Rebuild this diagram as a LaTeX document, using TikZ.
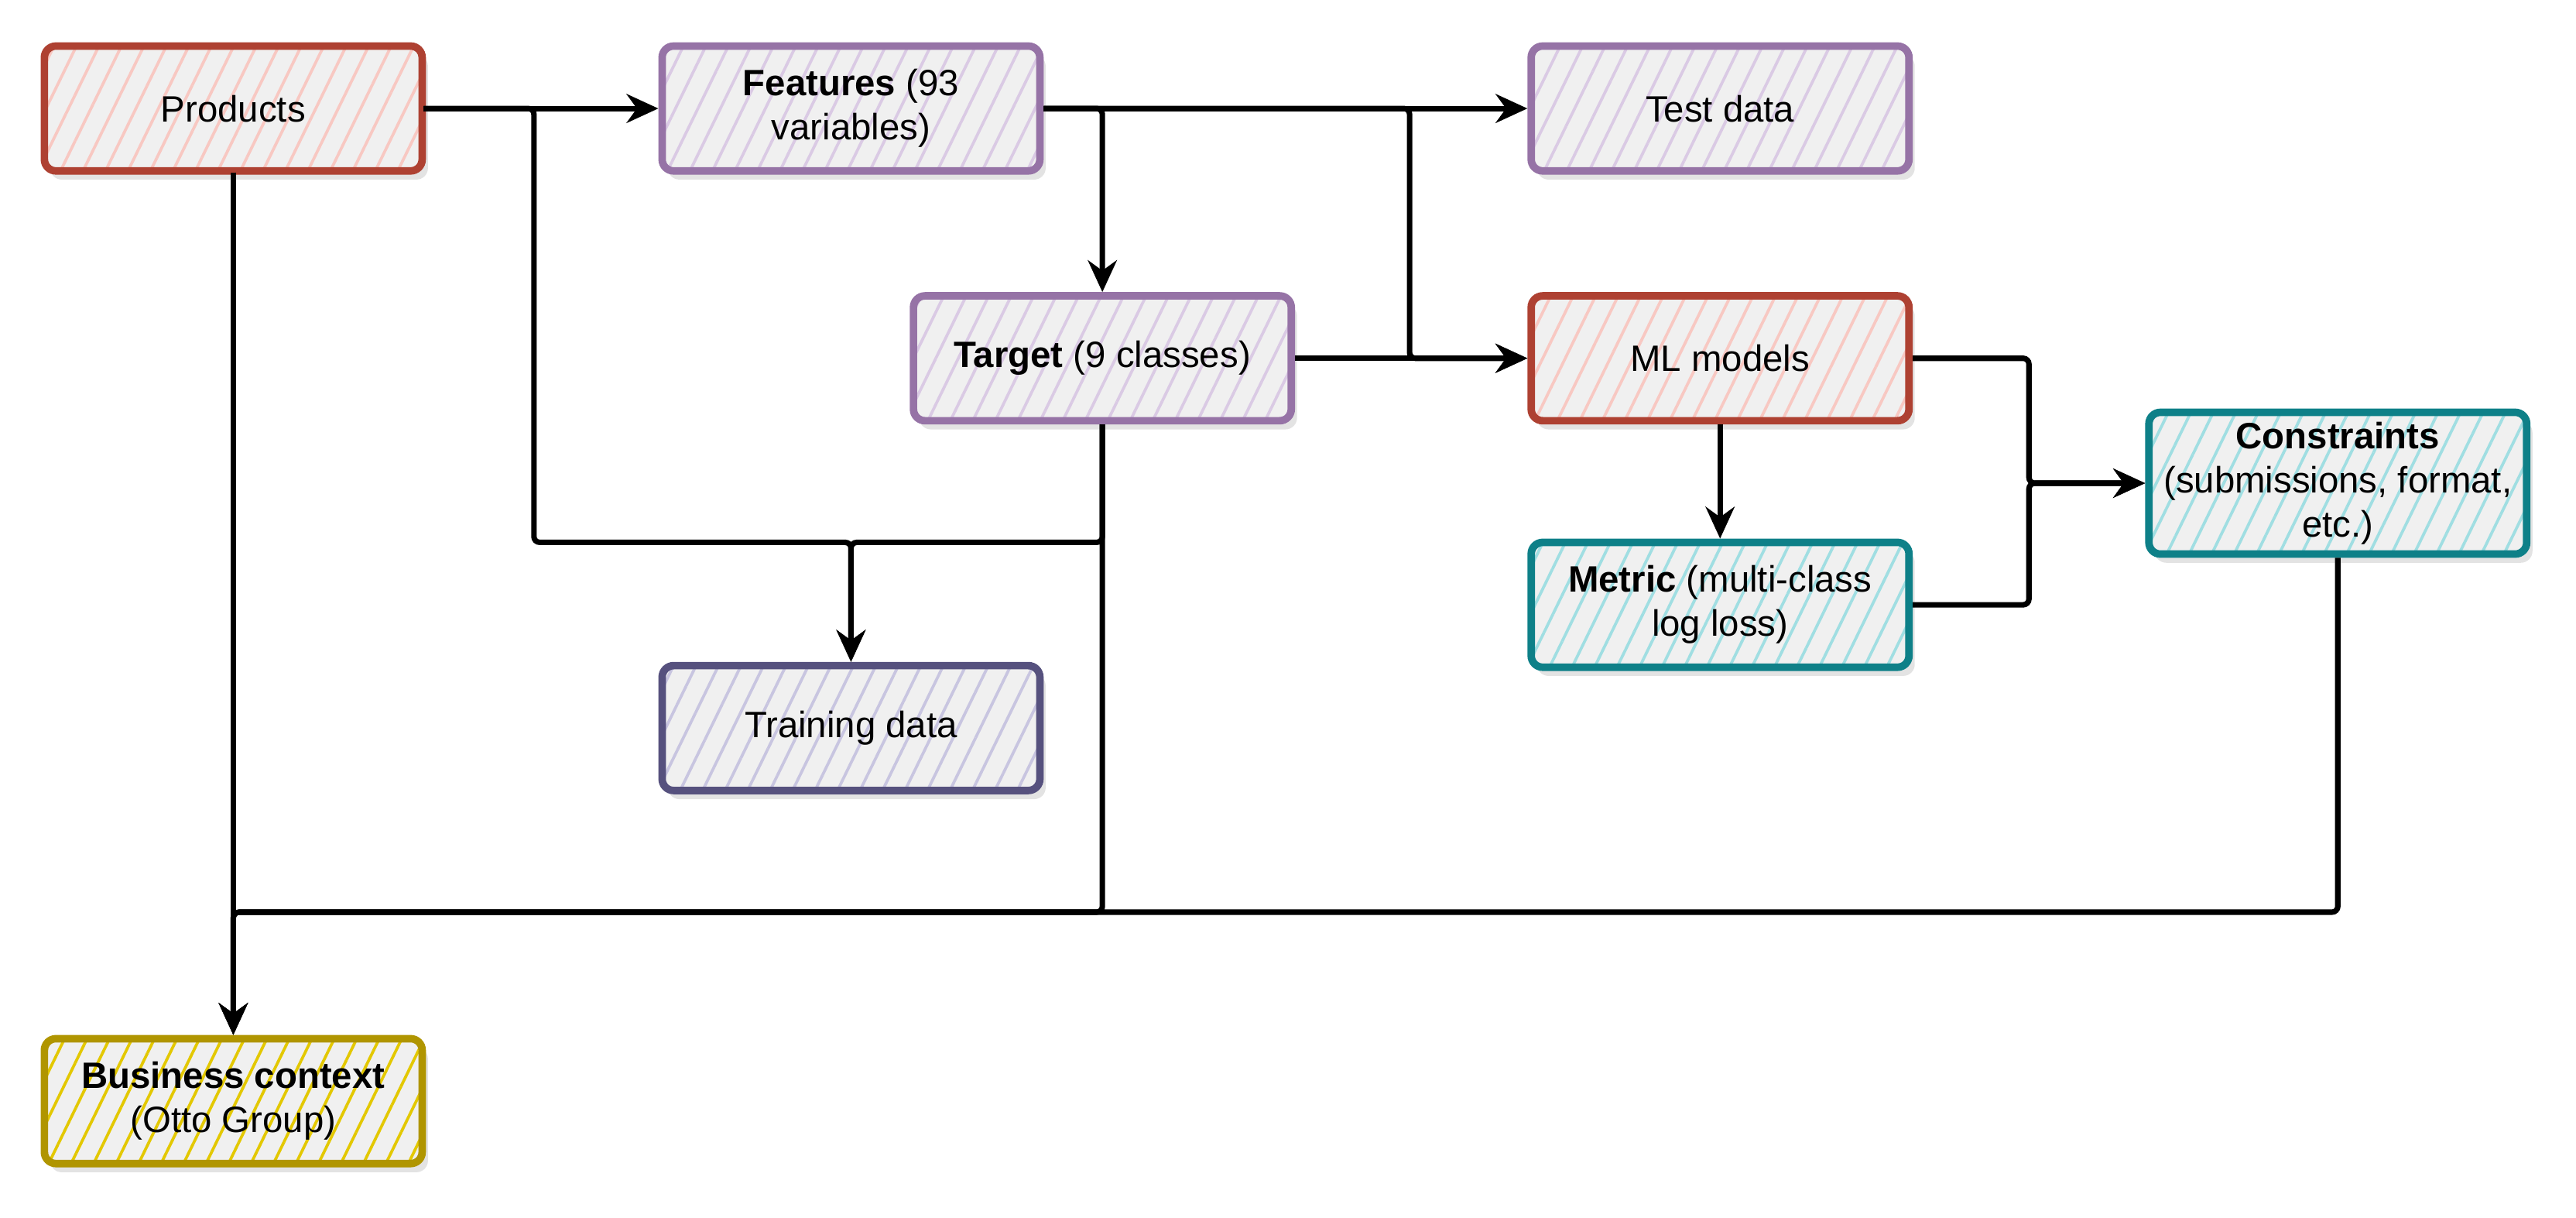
\documentclass[tikz,border=0pt]{standalone}
\usepackage{fontspec}
\setmainfont{Liberation Sans}
\usepackage{tikz}
\usetikzlibrary{calc, shapes, arrows.meta, patterns.meta, shadows}
\definecolor{prodred}{RGB}{174,65,50}
\definecolor{prodfill}{RGB}{248,200,194}
\definecolor{featpurple}{RGB}{150,115,166}
\definecolor{featfill}{RGB}{218,202,228}
\definecolor{trainpurple}{RGB}{86,81,126}
\definecolor{trainfill}{RGB}{200,197,224}
\definecolor{metricteal}{RGB}{14,128,136}
\definecolor{metricfill}{RGB}{160,222,226}
\definecolor{bizyellow}{RGB}{176,149,0}
\definecolor{bizfill}{RGB}{227,200,0}
\definecolor{boxgray}{RGB}{240,240,240}
\tikzset{
  flowbox/.style={rectangle, rounded corners=4pt, line width=2.6pt, minimum width=4.6cm, minimum height=1.52cm, align=center, font=\fontsize{12.7}{15.3}\selectfont, drop shadow={opacity=0.22, shadow xshift=2pt, shadow yshift=-3pt}, preaction={fill=boxgray}},
  flowlink/.style={line width=1.9pt, rounded corners=2pt, -{Stealth[length=11pt, width=10pt]}}
}
\newcommand\flowbox[6]{\node[flowbox, draw=#5, pattern={Lines[angle=64, distance=7pt, line width=1pt]}, pattern color=#6] (#1) at (#2,#3) {#4};}

\begin{document}
\begin{tikzpicture}[x=0.02cm, y=-0.02cm]
\useasboundingbox (0,0) rectangle (1568,740.66);
\flowbox{prod}{142}{66}{Products}{prodred}{prodfill}
	\flowbox{feat}{518}{66}{\textbf{Features} (93\\variables)}{featpurple}{featfill}
	\flowbox{test}{1047}{66}{Test data}{featpurple}{featfill}
	\flowbox{targ}{671}{218}{\textbf{Target} (9 classes)}{featpurple}{featfill}
	\flowbox{ml}{1047}{218}{ML models}{prodred}{prodfill}
	\flowbox{cons}{1423}{294}{\textbf{Constraints}\\(submissions, format,\\etc.)}{metricteal}{metricfill}
	\flowbox{met}{1047}{368}{\textbf{Metric} (multi-class\\log loss)}{metricteal}{metricfill}
	\flowbox{train}{518}{443}{Training data}{trainpurple}{trainfill}
	\flowbox{biz}{142}{670}{\textbf{Business context}\\(Otto Group)}{bizyellow}{bizfill}
	
	\coordinate (trainbus) at (325,330);
	\coordinate (bizbus) at (0,555);
	\coordinate (mlbus) at (858,218);
	\coordinate (consbus) at (1235,294);
	
	\draw[flowlink] (prod.east) -- (feat.west);
	\draw[flowlink] (prod.east) -| (trainbus) -| (train.north);
	\draw[flowlink] (targ.south) -- (targ.south |- trainbus) -| (train.north);
	\draw[flowlink] (prod.south) -- (biz.north);
	\draw[flowlink] (targ.south) -- (targ.south |- bizbus) -| (biz.north);
	\draw[flowlink] (cons.south) -- (cons.south |- bizbus) -| (biz.north);
	\draw[flowlink] (feat.east) -- (test.west);
	\draw[flowlink] (feat.east) -| (targ.north);
	\draw[flowlink] (feat.east) -| (mlbus) -- (ml.west);
	\draw[flowlink] (targ.east) -- (ml.west);
	\draw[flowlink] (ml.south) -- (met.north);
	\draw[flowlink] (ml.east) -| (consbus) -- (cons.west);
	\draw[flowlink] (met.east) -| (consbus) -- (cons.west);
\end{tikzpicture}
\end{document}
